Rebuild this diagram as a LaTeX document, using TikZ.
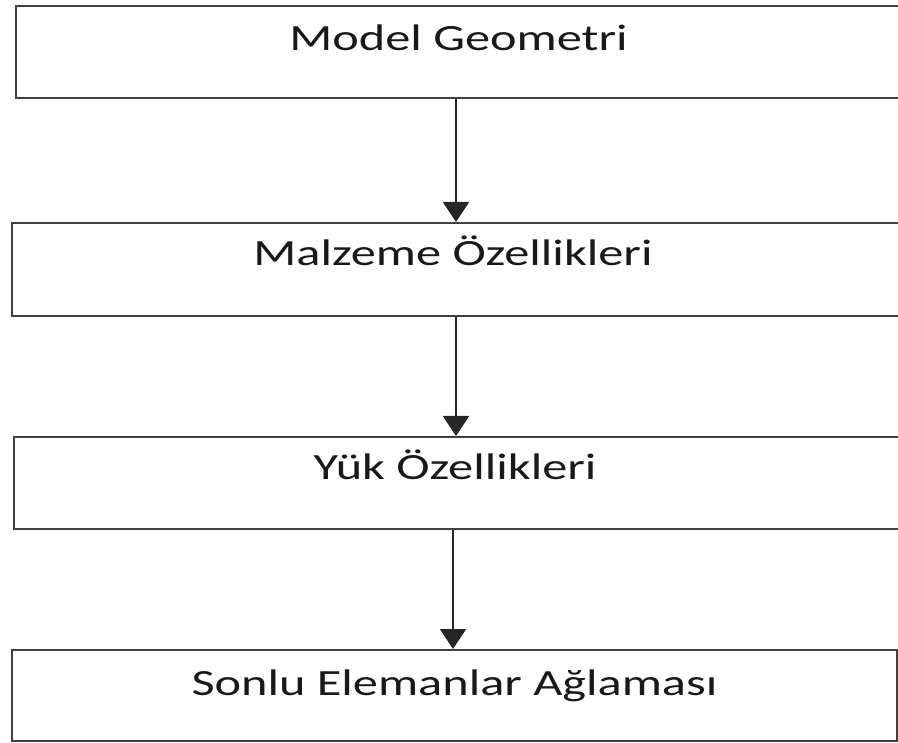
\documentclass[tikz,border=0pt]{standalone}
\usepackage{fontspec}
\setmainfont{Carlito}
\usetikzlibrary{arrows.meta}

\newcommand{\wide}[1]{\scalebox{1.36}[1]{#1}}

\tikzset{
  box/.style={draw=black!75, line width=2pt, rectangle, inner sep=0pt},
  lbl/.style={anchor=base, inner sep=0pt, font=\fontsize{37}{44}\selectfont, text=black!90},
  arr/.style={draw=black!85, line width=2pt, -{Triangle[width=26pt,length=20pt]}}
}

\begin{document}
\begin{tikzpicture}[x=1pt, y=-1pt]
  \useasboundingbox (0,0) rectangle (898,743);
  \clip (0,0) rectangle (898,743);

  % process boxes
  \node[box, minimum width=889pt, minimum height=92pt] (b1) at (460.5,52) {};
  \node[box, minimum width=893pt, minimum height=93pt] (b2) at (458.5,269.5) {};
  \node[box, minimum width=891pt, minimum height=92pt] (b3) at (459.5,483) {};
  \node[box, minimum width=885pt, minimum height=91pt] (b4) at (454.5,695.5) {};

  % captions
  \node[lbl] (t1) at (458.5,51) {\wide{Model Geometri}};
  \node[lbl] (t2) at (453,266) {\wide{Malzeme Özellikleri}};
  \node[lbl] (t3) at (455,480) {\wide{Yük Özellikleri}};
  \node[lbl] (t4) at (454.5,695) {\wide{Sonlu Elemanlar Ağlaması}};

  % flow arrows
  \coordinate (xa) at (456,0);
  \coordinate (xb) at (453,0);
  \draw[arr] (b1.south -| xa) -- (b2.north -| xa);
  \draw[arr] (b2.south -| xa) -- (b3.north -| xa);
  \draw[arr] (b3.south -| xb) -- (b4.north -| xb);
\end{tikzpicture}
\end{document}
